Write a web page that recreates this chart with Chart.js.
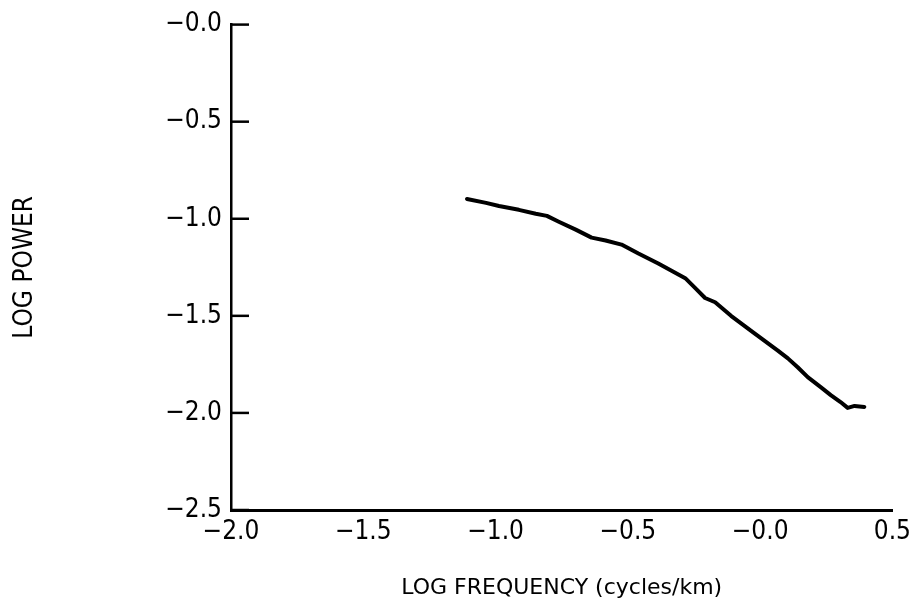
<!DOCTYPE html>
<html>
<head>
<meta charset="utf-8">
<script src="https://cdn.jsdelivr.net/npm/chart.js@4"></script>
<style>
  html, body { margin: 0; padding: 0; background: #fff; }
  #wrap { width: 918px; height: 615px; }
</style>
</head>
<body>
<div id="wrap"><canvas id="spectrum"></canvas></div>
<script>
// log frequency (cycles/km) and log power
const logFreq = [-1.108, -1.036, -0.987, -0.912, -0.848, -0.806, -0.761, -0.697, -0.637, -0.584,
                 -0.524, -0.460, -0.385, -0.283, -0.245, -0.208, -0.170, -0.110, -0.020, 0.067,
                 0.105, 0.142, 0.180, 0.229, 0.267, 0.304, 0.331, 0.357, 0.394];
const logPower = [-0.898, -0.918, -0.934, -0.954, -0.974, -0.985, -1.015, -1.056, -1.097, -1.112,
                  -1.133, -1.179, -1.230, -1.306, -1.357, -1.408, -1.430, -1.500, -1.592, -1.679,
                  -1.719, -1.765, -1.816, -1.867, -1.908, -1.944, -1.974, -1.964, -1.969];

const xTickLabels = ['\u22122.0', '\u22121.5', '\u22121.0', '\u22120.5', '\u22120.0', '0.5'];
const yTickLabels = ['\u22122.5', '\u22122.0', '\u22121.5', '\u22121.0', '\u22120.5', '\u22120.0'];

const NARROW = '"DejaVu Sans Condensed", "Liberation Sans Narrow", "DejaVu Sans", sans-serif';
const WIDE = '"DejaVu Sans", sans-serif';

// y ticks point inwards from the axis
const innerTicks = {
  id: 'innerTicks',
  afterDraw(chart) {
    const y = chart.scales.y;
    const ctx = chart.ctx;
    ctx.save();
    ctx.strokeStyle = '#000';
    ctx.lineWidth = 2.5;
    y.ticks.forEach(t => {
      const py = y.getPixelForValue(t.value);
      ctx.beginPath();
      ctx.moveTo(y.right, py);
      ctx.lineTo(y.right + 18, py);
      ctx.stroke();
    });
    ctx.restore();
  }
};

new Chart(document.getElementById('spectrum'), {
  type: 'line',
  data: {
    datasets: [{
      data: logFreq.map((x, i) => ({ x: x, y: logPower[i] })),
      borderColor: '#000',
      borderWidth: 4,
      borderCapStyle: 'round',
      borderJoinStyle: 'round',
      pointRadius: 0,
      tension: 0,
      fill: false
    }]
  },
  options: {
    responsive: true,
    maintainAspectRatio: false,
    animation: false,
    layout: { padding: { top: 21, right: 23 } },
    plugins: { legend: { display: false }, tooltip: { enabled: false } },
    scales: {
      x: {
        type: 'linear',
        min: -2.0, max: 0.5,
        afterFit: s => { s.height = 105; },
        grid: { display: false, drawTicks: false },
        border: { display: true, color: '#000', width: 3 },
        ticks: {
          stepSize: 0.5,
          padding: 7,
          color: '#000',
          maxRotation: 0,
          font: { family: NARROW, size: 26 },
          callback: (v, i) => xTickLabels[i]
        },
        title: {
          display: true,
          text: 'LOG FREQUENCY (cycles/km)',
          color: '#000',
          font: { family: WIDE, size: 22 },
          padding: { top: 0, bottom: 14 }
        }
      },
      y: {
        type: 'linear',
        min: -2.5, max: 0,
        afterFit: s => { s.width = 231; },
        grid: { display: false, drawTicks: false },
        border: { display: true, color: '#000', width: 2.5 },
        ticks: {
          stepSize: 0.5,
          padding: 9,
          color: '#000',
          font: { family: NARROW, size: 26 },
          callback: (v, i) => yTickLabels[i]
        },
        title: {
          display: true,
          text: 'LOG POWER',
          color: '#000',
          font: { family: NARROW, size: 26 },
          padding: { top: 10, bottom: 0 }
        }
      }
    }
  },
  plugins: [innerTicks]
});
</script>
</body>
</html>
